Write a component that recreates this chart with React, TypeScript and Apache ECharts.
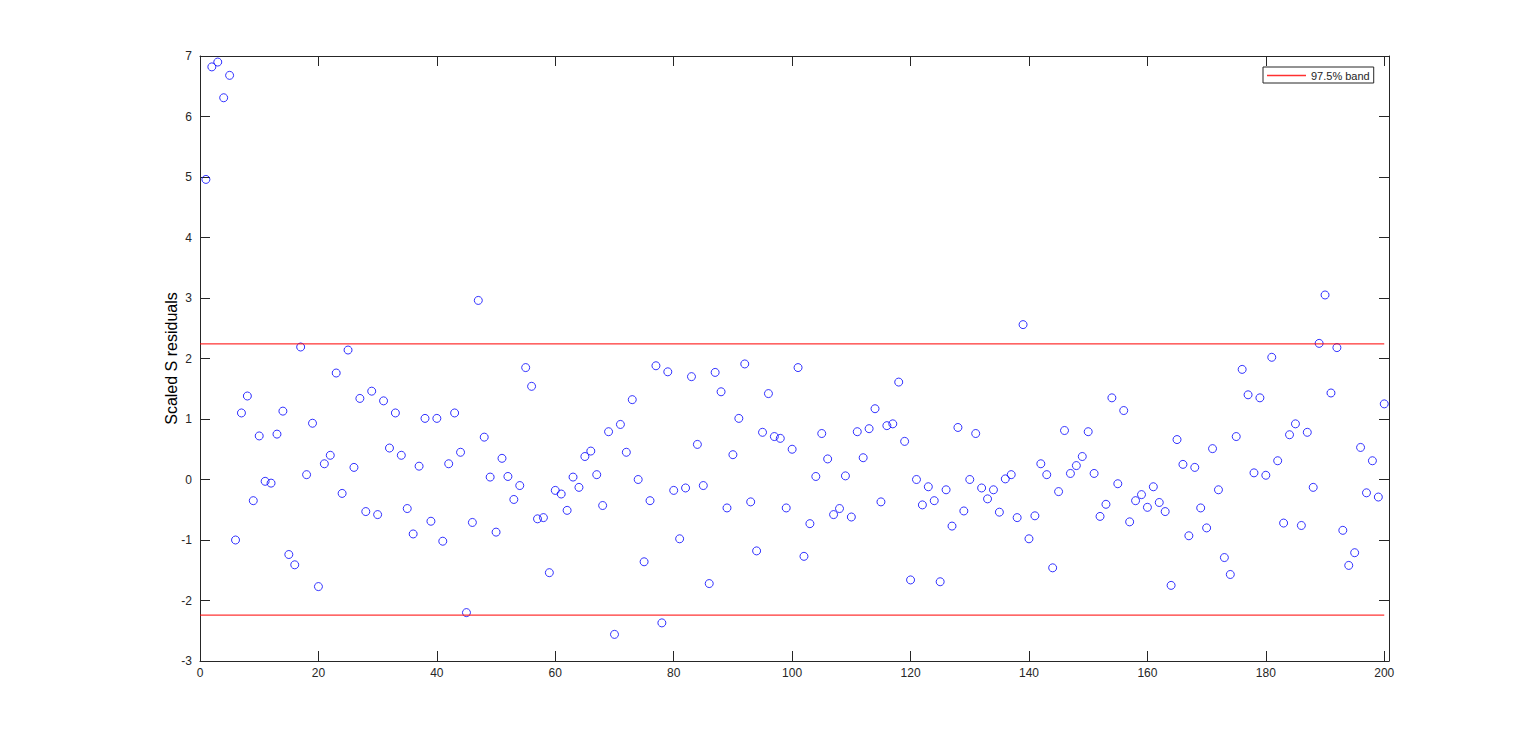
import React, { useEffect, useRef } from "react";
import * as echarts from "echarts";

// Scaled S residuals for observations 1..200
const residuals: number[] = [
  4.96, 6.82, 6.9, 6.31, 6.68, -1.0, 1.1, 1.38, -0.35, 0.72,
  -0.03, -0.06, 0.75, 1.13, -1.24, -1.41, 2.19, 0.08, 0.93, -1.77,
  0.26, 0.4, 1.76, -0.23, 2.14, 0.2, 1.34, -0.53, 1.46, -0.58,
  1.3, 0.52, 1.1, 0.4, -0.48, -0.9, 0.22, 1.01, -0.69, 1.01,
  -1.02, 0.26, 1.1, 0.45, -2.2, -0.71, 2.96, 0.7, 0.04, -0.87,
  0.35, 0.05, -0.33, -0.1, 1.85, 1.54, -0.65, -0.63, -1.54, -0.18,
  -0.24, -0.51, 0.04, -0.13, 0.38, 0.47, 0.08, -0.43, 0.79, -2.56,
  0.91, 0.45, 1.32, 0.0, -1.36, -0.35, 1.88, -2.37, 1.78, -0.18,
  -0.98, -0.14, 1.7, 0.58, -0.1, -1.72, 1.77, 1.45, -0.47, 0.41,
  1.01, 1.91, -0.37, -1.18, 0.78, 1.42, 0.71, 0.68, -0.47, 0.5,
  1.85, -1.27, -0.73, 0.05, 0.76, 0.34, -0.58, -0.48, 0.06, -0.62,
  0.79, 0.36, 0.84, 1.17, -0.37, 0.89, 0.92, 1.61, 0.63, -1.66,
  0.0, -0.42, -0.12, -0.35, -1.69, -0.17, -0.77, 0.86, -0.52, 0.0,
  0.76, -0.14, -0.32, -0.17, -0.54, 0.01, 0.08, -0.63, 2.56, -0.98,
  -0.6, 0.26, 0.08, -1.46, -0.2, 0.81, 0.1, 0.23, 0.38, 0.79,
  0.1, -0.61, -0.41, 1.35, -0.07, 1.14, -0.7, -0.35, -0.25, -0.46,
  -0.12, -0.38, -0.53, -1.75, 0.66, 0.25, -0.93, 0.2, -0.47, -0.8,
  0.51, -0.17, -1.29, -1.57, 0.71, 1.82, 1.4, 0.11, 1.35, 0.07,
  2.02, 0.31, -0.72, 0.74, 0.92, -0.76, 0.78, -0.13, 2.25, 3.05,
  1.43, 2.18, -0.84, -1.42, -1.21, 0.53, -0.22, 0.31, -0.29, 1.25,
];

const bandLevel = 2.2414; // 97.5% band
const bandName = "97.5% band";
const xRange = [0, 200.8];
const yRange = [-3, 7];
const xTickStep = 20;
const yTickStep = 1;
const yAxisTitle = "Scaled S residuals";

const FONT = "'Liberation Sans', Arial, Helvetica, sans-serif";
const INK = "#262626";

export default function App() {
  const ref = useRef<HTMLDivElement>(null);

  useEffect(() => {
    if (!ref.current) return;
    const chart = echarts.init(ref.current, undefined, { renderer: "svg" });

    const points = residuals.map((v, i) => [i + 1, v]);
    const upper = [
      [xRange[0], bandLevel],
      [200, bandLevel],
    ];
    const lower = [
      [xRange[0], -bandLevel],
      [200, -bandLevel],
    ];

    const xBase = {
      type: "value" as const,
      min: xRange[0],
      max: xRange[1],
      interval: xTickStep,
      splitLine: { show: false },
      axisLine: { show: true, onZero: false, lineStyle: { color: INK, width: 1 } },
      axisTick: { show: true, inside: true, length: 10, lineStyle: { color: INK } },
    };
    const yBase = {
      type: "value" as const,
      min: yRange[0],
      max: yRange[1],
      interval: yTickStep,
      splitLine: { show: false },
      axisLine: { show: true, onZero: false, lineStyle: { color: INK, width: 1 } },
      axisTick: { show: true, inside: true, length: 10, lineStyle: { color: INK } },
    };

    chart.setOption({
      animation: false,
      backgroundColor: "#ffffff",
      grid: { left: 200, top: 56, width: 1189, height: 605, containLabel: false },
      legend: {
        data: [{ name: bandName, icon: "rect" }],
        left: 1263,
        top: 67,
        orient: "vertical",
        padding: [3, 4, 2, 4],
        itemWidth: 39,
        itemHeight: 1.5,
        borderColor: INK,
        borderWidth: 1,
        borderRadius: 0,
        backgroundColor: "#ffffff",
        itemStyle: { color: "#ff3030" },
        textStyle: { fontFamily: FONT, fontSize: 11, color: INK },
      },
      xAxis: [
        {
          ...xBase,
          position: "bottom",
          axisLabel: {
            show: true,
            margin: 6,
            fontFamily: FONT,
            fontSize: 12,
            color: INK,
            formatter: (v: number) => (v % xTickStep === 0 ? String(v) : ""),
          },
        },
        { ...xBase, position: "top", axisLabel: { show: false } },
      ],
      yAxis: [
        {
          ...yBase,
          position: "left",
          name: yAxisTitle,
          nameLocation: "middle",
          nameGap: 21,
          nameMoveOverlap: false,
          nameTextStyle: { fontFamily: FONT, fontSize: 16, color: "#000000" },
          axisLabel: { show: true, margin: 8, fontFamily: FONT, fontSize: 12, color: INK },
        },
        { ...yBase, position: "right", axisLabel: { show: false } },
      ],
      series: [
        {
          type: "scatter",
          name: "residuals",
          xAxisIndex: 0,
          yAxisIndex: 0,
          data: points,
          symbol: "circle",
          symbolSize: 8,
          clip: false,
          itemStyle: { color: "rgba(0,0,0,0)", borderColor: "#0000ff", borderWidth: 1 },
          emphasis: { disabled: true },
        },
        {
          type: "line",
          name: bandName,
          xAxisIndex: 0,
          yAxisIndex: 0,
          data: upper,
          symbol: "none",
          showSymbol: false,
          lineStyle: { color: "#ff0000", width: 1 },
          itemStyle: { color: "#ff0000" },
        },
        {
          type: "line",
          name: bandName,
          xAxisIndex: 0,
          yAxisIndex: 0,
          data: lower,
          symbol: "none",
          showSymbol: false,
          lineStyle: { color: "#ff0000", width: 1 },
          itemStyle: { color: "#ff0000" },
        },
      ],
    });

    return () => chart.dispose();
  }, []);

  return (
    <div
      ref={ref}
      style={{ position: "absolute", left: 0, top: 0, width: 1536, height: 744 }}
    />
  );
}
